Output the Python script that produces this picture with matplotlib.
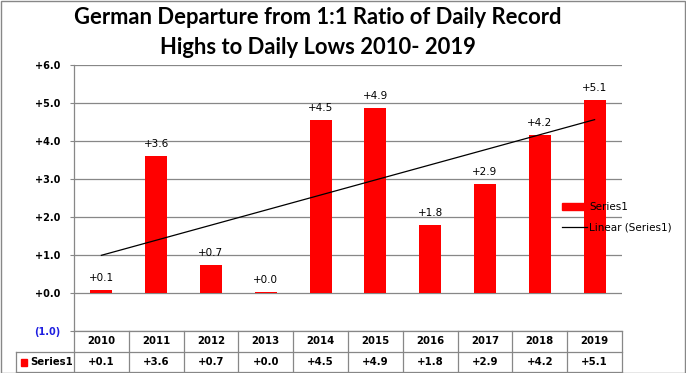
import matplotlib.pyplot as plt
import matplotlib.transforms as mtransforms
from matplotlib.patches import Patch, Rectangle
from matplotlib.lines import Line2D
import numpy as np

years = ["2010", "2011", "2012", "2013", "2014", "2015", "2016", "2017", "2018", "2019"]
values = [0.07, 3.6, 0.73, 0.03, 4.55, 4.88, 1.78, 2.87, 4.17, 5.09]
yticks = [-1, 0, 1, 2, 3, 4, 5, 6]

W, H = 686, 373
fig = plt.figure(figsize=(W / 100, H / 100), dpi=100)
L, R, T, B = 74, 622, 65, 331
ax = fig.add_axes([L / W, 1 - B / H, (R - L) / W, (B - T) / H])

grey = "#878787"
x = np.arange(len(years))
bars = ax.bar(x, values, width=0.4, color="#FF0000", zorder=3)
ax.bar_label(bars, labels=[f"{v:+.1f}" for v in values], padding=5,
             fontsize=7.5, color="black")

# linear trend line
k, b = np.polyfit(x, values, 1)
ax.plot([x[0], x[-1]], [k * x[0] + b, k * x[-1] + b], color="black", lw=0.9, zorder=4)

ax.set_xlim(-0.5, len(years) - 0.5)
ax.set_ylim(-1, 6)
ax.set_yticks(yticks)
ax.set_yticklabels([f"({abs(v):.1f})" if v < 0 else f"{v:+.1f}" for v in yticks],
                   fontsize=7, fontweight="bold")
ax.get_yticklabels()[0].set_color("#1F1FE0")
ax.tick_params(axis="y", length=3, color=grey, pad=7)
ax.set_xticks([])
ax.grid(axis="y", color=grey, lw=0.9, zorder=0)
for s in ["top", "right", "bottom"]:
    ax.spines[s].set_visible(False)
ax.spines["left"].set_color(grey)
ax.spines["left"].set_linewidth(0.9)

# data table below the axes
trans = mtransforms.blended_transform_factory(ax.transData, ax.transAxes)
ph = B - T
r1 = -21 / ph
r2 = -41 / ph
kw = dict(color=grey, lw=0.9, clip_on=False, transform=trans)
for yy in [0, r1, r2]:
    ax.plot([-0.5, len(years) - 0.5], [yy, yy], **kw)
for i in range(len(years) + 1):
    ax.plot([i - 0.5, i - 0.5], [0, r2], **kw)
for i, (yr, v) in enumerate(zip(years, values)):
    ax.text(i, r1 / 2, yr, transform=trans, ha="center", va="center",
            fontsize=7.3, fontweight="bold")
    ax.text(i, (r1 + r2) / 2, f"{v:+.1f}", transform=trans, ha="center", va="center",
            fontsize=7.3, fontweight="bold")
lx = (16 - L) / (R - L)
tA = ax.transAxes
ax.plot([lx, 0], [r1, r1], color=grey, lw=0.9, clip_on=False, transform=tA)
ax.plot([lx, 0], [r2, r2], color=grey, lw=0.9, clip_on=False, transform=tA)
ax.plot([lx, lx], [r1, r2], color=grey, lw=0.9, clip_on=False, transform=tA)
fig.add_artist(Rectangle((21 / W, 1 - 366 / H), 6 / W, 7 / H, color="#FF0000",
                         transform=fig.transFigure))
fig.text(30 / W, 1 - 362 / H, "Series1", fontsize=7.3, fontweight="bold", va="center")

# legend
handles = [Patch(color="#FF0000"), Line2D([], [], color="black", lw=0.9)]
fig.legend(handles, ["Series1", "Linear (Series1)"], loc="upper left",
           bbox_to_anchor=(562 / W, 1 - 202 / H), frameon=False, fontsize=7.5,
           handlelength=2.4, handleheight=0.6, handletextpad=0.2,
           labelspacing=1.0, borderpad=0, borderaxespad=0)

# title
fig.text(318 / W, 1 - 18 / H, "German Departure from 1:1 Ratio of Daily Record",
         ha="center", va="center", fontsize=15.8, fontweight="bold", family="Lato")
fig.text(318 / W, 1 - 47 / H, "Highs to Daily Lows 2010- 2019",
         ha="center", va="center", fontsize=15.8, fontweight="bold", family="Lato")

# outer border
fig.add_artist(Rectangle((0.5 / W, 0.5 / H), 1 - 1.5 / W, 1 - 1.5 / H, fill=False,
                         edgecolor=grey, lw=1, transform=fig.transFigure))

fig.savefig("out.png", dpi=100)
